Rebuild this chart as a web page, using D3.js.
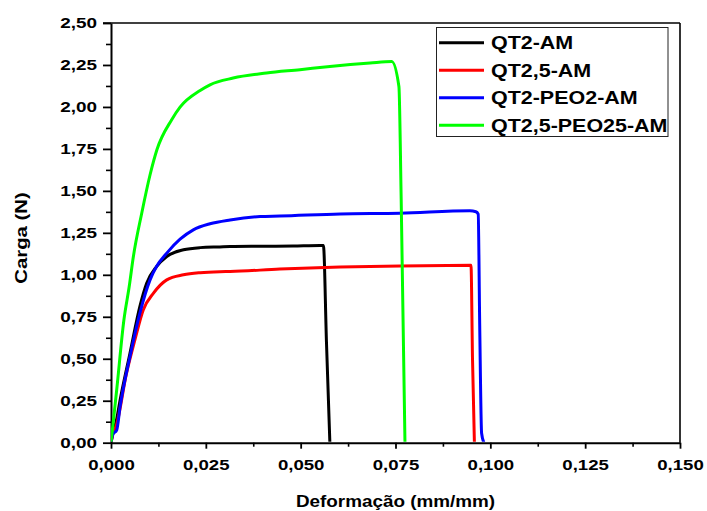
<!DOCTYPE html>
<html>
<head>
<meta charset="utf-8">
<script src="https://cdn.jsdelivr.net/npm/d3@7"></script>
<style>
  html, body { margin: 0; padding: 0; background: #fff; }
  svg { display: block; font-family: "Liberation Sans", Arial, sans-serif; font-weight: bold; }
  .sx { transform-box: fill-box; }
  .ytick text { transform-box: fill-box; transform-origin: 100% 50%; transform: scaleX(1.22); }
  .xtick text { transform-box: fill-box; transform-origin: 50% 50%; transform: scaleX(1.2); }
</style>
</head>
<body>
<script>
// Tensile curves: strain (mm/mm) vs load (N)
const seriesNames = ["QT2-AM", "QT2,5-AM", "QT2-PEO2-AM", "QT2,5-PEO25-AM"];
const seriesColors = ["#000000", "#ff0000", "#0000ff", "#00ff00"];

const strainQT2 = [0, 0.0006, 0.0013, 0.0024, 0.0050, 0.0076, 0.0094, 0.0120, 0.0147, 0.0191, 0.0235, 0.0287, 0.0314, 0.0400, 0.0480, 0.0551, 0.0560, 0.0568, 0.0577];
const loadQT2   = [0, 0.07, 0.12, 0.254, 0.533, 0.811, 0.950, 1.049, 1.109, 1.149, 1.162, 1.166, 1.168, 1.170, 1.172, 1.175, 1.174, 0.60, 0];

const strainQT25 = [0, 0.0006, 0.0013, 0.0041, 0.0063, 0.0085, 0.0112, 0.0147, 0.0191, 0.0235, 0.0287, 0.0314, 0.0445, 0.0604, 0.0762, 0.0949, 0.0953, 0.0958];
const loadQT25   = [0, 0.06, 0.095, 0.414, 0.612, 0.791, 0.891, 0.970, 1.000, 1.013, 1.019, 1.020, 1.034, 1.046, 1.053, 1.057, 0.50, 0];

const strainPEO2 = [0, 0.0005, 0.0015, 0.0024, 0.0050, 0.0076, 0.0103, 0.0120, 0.0147, 0.0182, 0.0217, 0.0261, 0.0314, 0.0393, 0.0445, 0.0604, 0.0762, 0.0946, 0.0962, 0.0968, 0.0972, 0.0977, 0.0983];
const loadPEO2   = [0, 0.05, 0.075, 0.215, 0.513, 0.771, 0.970, 1.049, 1.129, 1.212, 1.268, 1.304, 1.327, 1.347, 1.350, 1.363, 1.367, 1.381, 1.376, 1.361, 0.70, 0.056, 0];

const strainPEO25 = [0, 0.0015, 0.0034, 0.0048, 0.0059, 0.0081, 0.0103, 0.0121, 0.0160, 0.0182, 0.0235, 0.0261, 0.0322, 0.0410, 0.0498, 0.0577, 0.0683, 0.0740, 0.0759, 0.0765, 0.0775];
const loadPEO25   = [0, 0.314, 0.731, 0.930, 1.109, 1.367, 1.596, 1.745, 1.924, 1.999, 2.098, 2.132, 2.172, 2.202, 2.222, 2.241, 2.262, 2.271, 2.122, 1.447, 0];

const xTicks = [0, 0.025, 0.05, 0.075, 0.1, 0.125, 0.15];
const yTicks = [0, 0.25, 0.5, 0.75, 1.0, 1.25, 1.5, 1.75, 2.0, 2.25, 2.5];
const xMinor = [0.0125, 0.0375, 0.0625, 0.0875, 0.1125, 0.1375];
const yMinor = [0.125, 0.375, 0.625, 0.875, 1.125, 1.375, 1.625, 1.875, 2.125, 2.375];

const xTitle = "Deformação (mm/mm)";
const yTitle = "Carga (N)";

const W = 707, H = 511;
const padL = 111, padR = 680, padT = 23, padB = 442.7;

const svg = d3.select("body").append("svg").attr("width", W).attr("height", H);
svg.append("rect").attr("width", W).attr("height", H).attr("fill", "#fff");

const x = d3.scaleLinear().domain([0, 0.15]).range([padL, padR]);
const y = d3.scaleLinear().domain([0, 2.5]).range([padB, padT]);

const loc = d3.formatLocale({ decimal: ",", thousands: ".", grouping: [3], currency: ["", ""] });
const fx = loc.format(".3f"), fy = loc.format(".2f");

// frame top and right
svg.append("line").attr("x1", x(0) - 8).attr("x2", x(0.15)).attr("y1", y(2.5)).attr("y2", y(2.5))
  .attr("stroke", "#000").attr("stroke-width", 1.6);
svg.append("line").attr("x1", x(0.15)).attr("x2", x(0.15)).attr("y1", y(2.5)).attr("y2", y(0))
  .attr("stroke", "#000").attr("stroke-width", 1.6);

// minor ticks
svg.append("g").attr("transform", `translate(${padL},0)`)
  .call(d3.axisLeft(y).tickValues(yMinor).tickSize(5).tickSizeOuter(0).tickFormat(""))
  .call(g => g.select(".domain").remove())
  .call(g => g.selectAll("line").attr("stroke-width", 1.6));
svg.append("g").attr("transform", `translate(0,${padB})`)
  .call(d3.axisBottom(x).tickValues(xMinor).tickSize(4).tickSizeOuter(0).tickFormat(""))
  .call(g => g.select(".domain").remove())
  .call(g => g.selectAll("line").attr("stroke-width", 1.6));

// major axes
const ya = svg.append("g").attr("class", "ytick").attr("transform", `translate(${padL},0)`)
  .call(d3.axisLeft(y).tickValues(yTicks).tickSize(8).tickSizeOuter(0).tickPadding(6).tickFormat(fy));
const xa = svg.append("g").attr("class", "xtick").attr("transform", `translate(0,${padB})`)
  .call(d3.axisBottom(x).tickValues(xTicks).tickSize(6).tickSizeOuter(0).tickPadding(10.5).tickFormat(fx));
[ya, xa].forEach(a => {
  a.attr("font-family", null).attr("font-size", null);
  a.select(".domain").attr("stroke-width", 2);
  a.selectAll("line").attr("stroke-width", 1.8);
  a.selectAll("text").attr("font-size", 15.5).attr("font-weight", "bold").attr("fill", "#000");
});

// curves
const curves = [
  strainQT2.map((s, i) => [s, loadQT2[i]]),
  strainQT25.map((s, i) => [s, loadQT25[i]]),
  strainPEO2.map((s, i) => [s, loadPEO2[i]]),
  strainPEO25.map((s, i) => [s, loadPEO25[i]])
];
const lineSmooth = d3.line().x(d => x(d[0])).y(d => y(d[1])).curve(d3.curveMonotoneX);
svg.append("clipPath").attr("id", "pa").append("rect")
  .attr("x", padL).attr("y", padT - 2).attr("width", padR - padL).attr("height", padB - padT + 1);
const plot = svg.append("g").attr("clip-path", "url(#pa)");
curves.forEach((pts, i) => {
  plot.append("path").attr("d", lineSmooth(pts)).attr("fill", "none")
    .attr("stroke", seriesColors[i]).attr("stroke-width", 3)
    .attr("stroke-linejoin", "round").attr("stroke-linecap", "round");
});

// axis titles
svg.append("text").attr("x", (padL + padR) / 2).attr("y", 507).attr("text-anchor", "middle")
  .attr("font-size", 16).attr("class", "sx")
  .style("transform-origin", "50% 50%").style("transform", "scaleX(1.18)")
  .text(xTitle);
svg.append("g").attr("transform", "translate(26.7,238) rotate(-90)")
  .append("text").attr("text-anchor", "middle").attr("font-size", 16).attr("class", "sx")
  .style("transform-origin", "50% 50%").style("transform", "scaleX(1.27)")
  .text(yTitle);

// legend
const lg = svg.append("g");
lg.append("rect").attr("x", 436.5).attr("y", 27.5).attr("width", 231.5).attr("height", 109)
  .attr("fill", "#fff").attr("stroke", "#222").attr("stroke-width", 1);
seriesNames.forEach((name, i) => {
  const cy = 42.7 + i * 27.5;
  lg.append("line").attr("x1", 439).attr("x2", 484).attr("y1", cy).attr("y2", cy)
    .attr("stroke", seriesColors[i]).attr("stroke-width", 3);
  lg.append("text").attr("x", 491).attr("y", cy + 6.8).attr("font-size", 19).attr("class", "sx")
    .style("transform-origin", "0% 50%").style("transform", "scaleX(1.13)")
    .text(name);
});
</script>
</body>
</html>
